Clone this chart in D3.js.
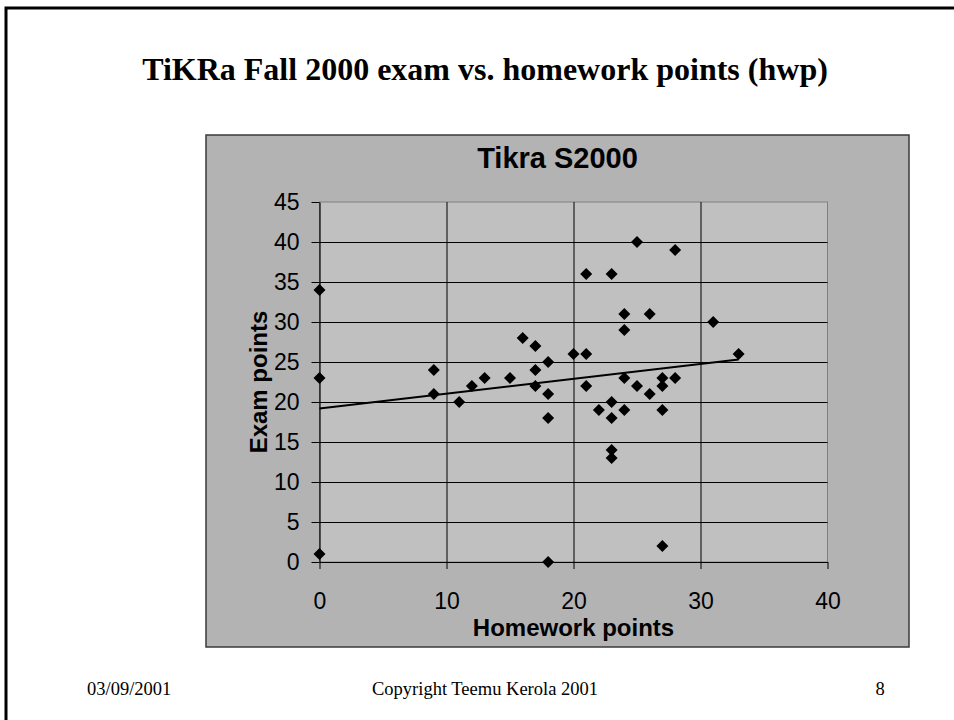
<!DOCTYPE html>
<html>
<head>
<meta charset="utf-8">
<script src="https://cdn.jsdelivr.net/npm/d3@7"></script>
<style>
body { margin: 0; background: #ffffff; }
</style>
</head>
<body>
<svg id="drawing_region"></svg>
<script>
// homework points (x) and exam points (y), one entry per student
const hwp  = [0, 0, 0, 9, 9, 11, 12, 13, 15, 16, 17, 17, 17, 18, 18, 18, 18,
              20, 21, 21, 21, 22, 23, 23, 23, 23, 23, 24, 24, 24, 24, 25, 25,
              26, 26, 27, 27, 27, 27, 28, 28, 31, 33];
const exam = [34, 23, 1, 24, 21, 20, 22, 23, 23, 28, 27, 24, 22, 25, 21, 18, 0,
              26, 36, 26, 22, 19, 36, 20, 18, 14, 13, 31, 29, 23, 19, 40, 22,
              31, 21, 23, 22, 19, 2, 39, 23, 30, 26];
// linear trend line end points
const trend_x = [0, 33];
const trend_y = [19.2, 25.3];
const x_ticks = [0, 10, 20, 30, 40];
const y_ticks = [0, 5, 10, 15, 20, 25, 30, 35, 40, 45];

class ScatterChart {

    constructor( config, data ){
        this.config = {
            parent: config.parent,
            box: config.box,
            margin: config.margin,
            width: config.width,
            height: config.height,
            title: config.title || '',
            xlabel: config.xlabel || '',
            ylabel: config.ylabel || ''
        }
        this.data = data;
        this.init();
    }

    init(){
        let self = this;
        const box = self.config.box;

        self.svg = d3.select( self.config.parent );

        self.svg.append('rect')
            .attr('x', box.x)
            .attr('y', box.y)
            .attr('width', box.w)
            .attr('height', box.h)
            .attr('fill', '#b3b3b3')
            .attr('stroke', '#3a3a3a')
            .attr('stroke-width', 1.5);

        self.chart = self.svg.append('g')
            .attr('transform', `translate(${self.config.margin.left}, ${self.config.margin.top})`);

        self.inner_width = self.config.width;
        self.inner_height = self.config.height;

        self.chart.append('rect')
            .attr('width', self.inner_width)
            .attr('height', self.inner_height)
            .attr('fill', '#c0c0c0')
            .attr('stroke', '#808080')
            .attr('stroke-width', 1);

        self.xscale = d3.scaleLinear()
            .domain([0, 40])
            .range([0, self.inner_width]);

        self.yscale = d3.scaleLinear()
            .domain([0, 45])
            .range([self.inner_height, 0]);

        self.xgrid_group = self.chart.append('g');
        self.ygrid_group = self.chart.append('g');
        self.xaxis_group = self.chart.append('g')
            .attr('transform', `translate(0, ${self.inner_height})`);
        self.yaxis_group = self.chart.append('g');

        self.svg.append('text')
            .attr('x', box.x + box.w / 2)
            .attr('y', 168)
            .attr('text-anchor', 'middle')
            .style('font-family', '"Liberation Sans", Arial, sans-serif')
            .style('font-size', '29px')
            .style('font-weight', 'bold')
            .text( self.config.title );

        self.svg.append('text')
            .attr('x', self.config.margin.left + self.inner_width / 2)
            .attr('y', 636)
            .attr('text-anchor', 'middle')
            .style('font-family', '"Liberation Sans", Arial, sans-serif')
            .style('font-size', '24px')
            .style('font-weight', 'bold')
            .text( self.config.xlabel );

        self.svg.append('text')
            .attr('transform', `translate(267, ${self.config.margin.top + self.inner_height / 2}) rotate(-90)`)
            .attr('text-anchor', 'middle')
            .style('font-family', '"Liberation Sans", Arial, sans-serif')
            .style('font-size', '24px')
            .style('font-weight', 'bold')
            .text( self.config.ylabel );
    }

    render(){
        let self = this;

        self.xgrid_group
            .call( d3.axisBottom(self.xscale).tickValues(x_ticks.slice(1, -1))
                .tickSize(self.inner_height).tickFormat('') )
            .call( g => g.select('.domain').remove() )
            .selectAll('line').attr('stroke', '#000');

        self.ygrid_group
            .call( d3.axisLeft(self.yscale).tickValues(y_ticks.slice(1, -1))
                .tickSize(-self.inner_width).tickFormat('') )
            .call( g => g.select('.domain').remove() )
            .selectAll('line').attr('stroke', '#000');

        self.xaxis_group
            .call( d3.axisBottom(self.xscale).tickValues(x_ticks)
                .tickSize(7).tickSizeOuter(0).tickPadding(24) );

        self.yaxis_group
            .call( d3.axisLeft(self.yscale).tickValues(y_ticks)
                .tickSize(8).tickSizeOuter(0).tickPadding(12) );

        self.chart.selectAll('.tick text')
            .style('font-family', '"Liberation Sans", Arial, sans-serif')
            .style('font-size', '23px')
            .attr('fill', '#000');
        self.chart.selectAll('.domain').attr('stroke', '#000').attr('stroke-width', 1.2);

        const line = d3.line()
            .x( d => self.xscale(d[0]) )
            .y( d => self.yscale(d[1]) );

        self.chart.append('path')
            .attr('d', line( d3.zip(trend_x, trend_y) ))
            .attr('stroke', '#000')
            .attr('stroke-width', 2)
            .attr('fill', 'none');

        self.chart.selectAll('.pt')
            .data(self.data)
            .enter()
            .append('path')
            .attr('class', 'pt')
            .attr('d', d3.symbol(d3.symbolSquare, 72))
            .attr('transform', d => `translate(${self.xscale(d.x)}, ${self.yscale(d.y)}) rotate(45)`)
            .attr('fill', '#000');
    }
}

const svg = d3.select('#drawing_region')
    .attr('width', 954)
    .attr('height', 720);

// slide frame, only left and top edges are inside the picture
svg.append('path')
    .attr('d', 'M6,720 L6,8 L960,8')
    .attr('stroke', '#000')
    .attr('stroke-width', 3)
    .attr('fill', 'none');

svg.append('text')
    .attr('x', 485)
    .attr('y', 80)
    .attr('text-anchor', 'middle')
    .style('font-family', '"Liberation Serif", "Times New Roman", serif')
    .style('font-size', '32px')
    .style('font-weight', 'bold')
    .text('TiKRa Fall 2000 exam vs. homework points (hwp)');

const footer_style = t => t
    .style('font-family', '"Liberation Serif", "Times New Roman", serif')
    .style('font-size', '18.5px')
    .attr('fill', '#000');

svg.append('text').attr('x', 87).attr('y', 695).call(footer_style).text('03/09/2001');
svg.append('text').attr('x', 485).attr('y', 695).attr('text-anchor', 'middle')
    .call(footer_style).text('Copyright Teemu Kerola 2001');
svg.append('text').attr('x', 880).attr('y', 695).attr('text-anchor', 'middle')
    .call(footer_style).text('8');

const data = hwp.map( (h, i) => ({ x: h, y: exam[i] }) );

const chart = new ScatterChart({
    parent: '#drawing_region',
    box: { x: 206, y: 135, w: 703, h: 512 },
    margin: { top: 202, left: 319.5 },
    width: 508,
    height: 360,
    title: 'Tikra S2000',
    xlabel: 'Homework points',
    ylabel: 'Exam points'
}, data);
chart.render();
</script>
</body>
</html>
